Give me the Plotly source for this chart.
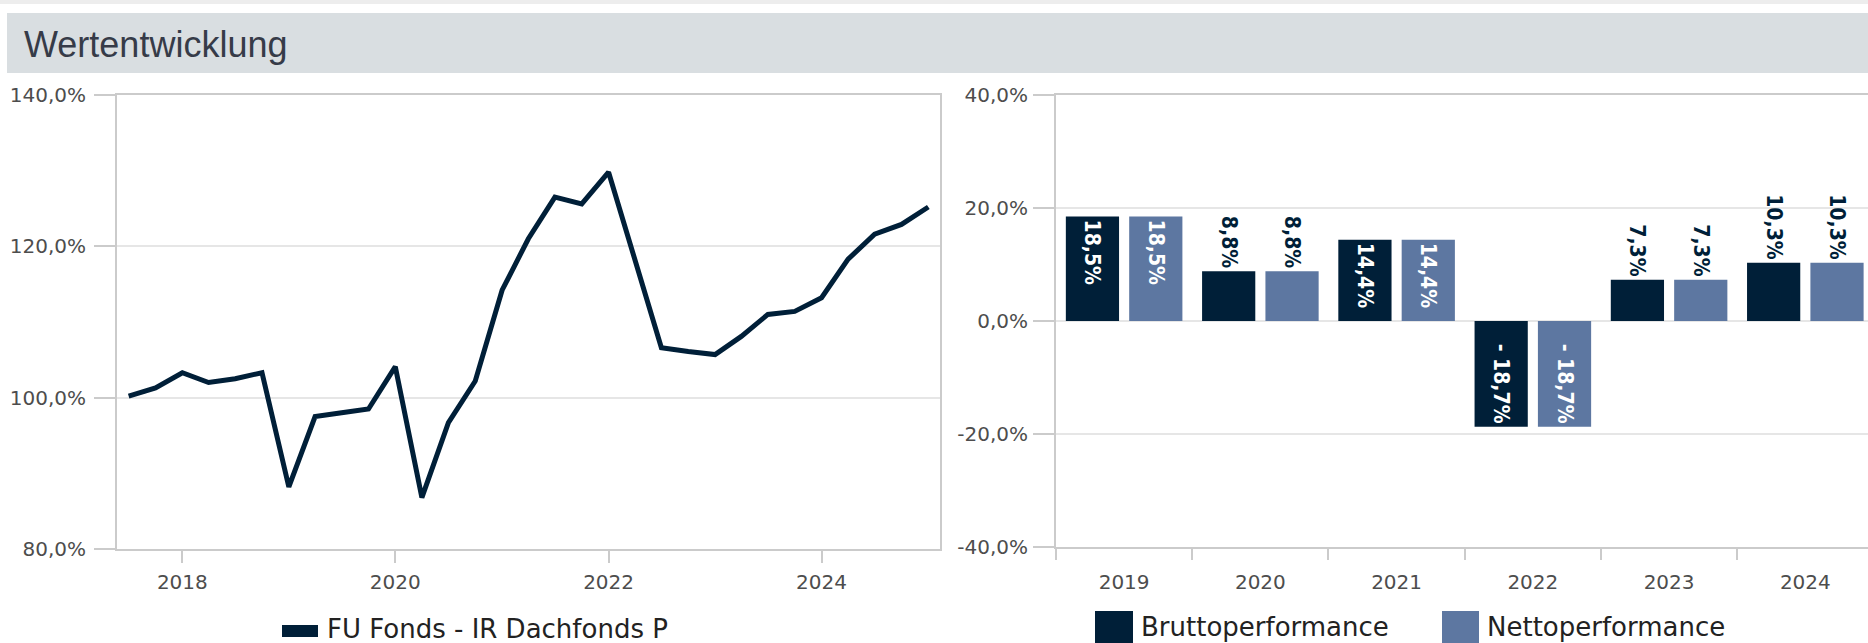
import plotly.graph_objects as go

W, H = 1868, 643

# ---------------- data ----------------
quarters = [
    "2017-07-01", "2017-10-01", "2018-01-01", "2018-04-01", "2018-07-01", "2018-10-01",
    "2019-01-01", "2019-04-01", "2019-07-01", "2019-10-01", "2020-01-01", "2020-04-01",
    "2020-07-01", "2020-10-01", "2021-01-01", "2021-04-01", "2021-07-01", "2021-10-01",
    "2022-01-01", "2022-04-01", "2022-07-01", "2022-10-01", "2023-01-01", "2023-04-01",
    "2023-07-01", "2023-10-01", "2024-01-01", "2024-04-01", "2024-07-01", "2024-10-01",
    "2025-01-01",
]
fund_values = [
    100.2, 101.3, 103.3, 102.0, 102.5, 103.3,
    88.2, 97.5, 98.0, 98.5, 104.1, 86.8,
    96.7, 102.2, 114.2, 121.0, 126.5, 125.6,
    129.8, 118.3, 106.6, 106.1, 105.7, 108.1,
    111.0, 111.4, 113.2, 118.3, 121.6, 122.9,
    125.2,
]
fund_name = "FU Fonds - IR Dachfonds P"

years = ["2019", "2020", "2021", "2022", "2023", "2024"]
brutto = [18.5, 8.8, 14.4, -18.7, 7.3, 10.3]
netto = [18.5, 8.8, 14.4, -18.7, 7.3, 10.3]
bar_names = ["Bruttoperformance", "Nettoperformance"]

left_yticks = [80, 100, 120, 140]
left_yticklabels = ["80,0%", "100,0%", "120,0%", "140,0%"]
right_yticks = [-40, -20, 0, 20, 40]
right_yticklabels = ["-40,0%", "-20,0%", "0,0%", "20,0%", "40,0%"]

title_text = "Wertentwicklung"

# ---------------- style ----------------
NAVY = "#001f38"
BLUE = "#5d77a1"
AXIS = "#cbcbcb"
GRID = "#e6e6e6"
TICKFONT = dict(family="DejaVu Sans", size=20, color="#4d4d4d")
LEGFONT = dict(family="DejaVu Sans", size=26, color="#222222")
LABELFONT = "DejaVu Sans Condensed, DejaVu Sans, sans-serif"


def px_x(p):
    return p / W


def px_y(p):
    return 1 - p / H


def fmt(v):
    s = f"{abs(v):.1f}".replace(".", ",") + "%"
    return ("- " + s) if v < 0 else s


def positions(vals):
    return ["inside" if abs(v) >= 12 else "outside" for v in vals]


fig = go.Figure()

fig.add_trace(go.Scatter(
    x=quarters, y=fund_values, mode="lines", name=fund_name,
    line=dict(color=NAVY, width=5), xaxis="x", yaxis="y", showlegend=False,
))

for vals, name, col in [(brutto, bar_names[0], NAVY), (netto, bar_names[1], BLUE)]:
    fig.add_trace(go.Bar(
        x=years, y=vals, name=name, marker=dict(color=col, line=dict(width=0)),
        text=[fmt(v) for v in vals], textposition=positions(vals),
        textangle=90, insidetextanchor="end", constraintext="none", cliponaxis=False,
        insidetextfont=dict(family=LABELFONT, size=21, color="white", weight="bold"),
        outsidetextfont=dict(family=LABELFONT, size=21, color=NAVY, weight="bold"),
        xaxis="x2", yaxis="y2", showlegend=False,
    ))

common_axis = dict(showline=True, linecolor=AXIS, linewidth=2, ticks="outside",
                   tickcolor=AXIS, tickwidth=2, tickfont=TICKFONT, zeroline=False,
                   automargin=False)

fig.update_layout(
    template="none",
    width=W, height=H, autosize=False,
    margin=dict(l=0, r=0, t=0, b=0, pad=0),
    paper_bgcolor="white", plot_bgcolor="white",
    separators=",.",
    barmode="group", bargap=0.07, bargroupgap=0.16,
    showlegend=False,
    xaxis=dict(domain=[px_x(117), px_x(940)], anchor="y", type="date",
               range=["2017-05-22", "2025-02-10"], dtick="M24", tick0="2018-01-01",
               tickformat="%Y", ticklen=12, mirror=True, showgrid=False,
               ticklabelstandoff=2, **common_axis),
    yaxis=dict(domain=[px_y(549), px_y(95)], anchor="x", range=[80, 140],
               tickvals=left_yticks, ticktext=left_yticklabels, ticklen=21, mirror=True,
               showgrid=True, gridcolor=GRID, gridwidth=2, ticklabelstandoff=4,
               **common_axis),
    xaxis2=dict(domain=[px_x(1056), 1.0], anchor="y2", type="category",
                range=[-0.5, 5.46], tickson="boundaries", ticklen=11, mirror=True,
                showgrid=False, ticklabelstandoff=16, **common_axis),
    yaxis2=dict(domain=[px_y(547), px_y(95)], anchor="x2", range=[-40, 40],
                tickvals=right_yticks, ticktext=right_yticklabels, ticklen=21,
                showgrid=True, gridcolor=GRID, gridwidth=2, ticklabelstandoff=1,
                **common_axis),
)

shapes = [
    # top strip and header band
    dict(type="rect", xref="paper", yref="paper", x0=0, x1=1, y0=px_y(4), y1=1,
         fillcolor="#ededed", line=dict(width=0), layer="below"),
    dict(type="rect", xref="paper", yref="paper", x0=px_x(7), x1=1, y0=px_y(73), y1=px_y(13),
         fillcolor="#d9dee1", line=dict(width=0), layer="below"),
    # legend symbols
    dict(type="rect", xref="paper", yref="paper", x0=px_x(282), x1=px_x(318),
         y0=px_y(637), y1=px_y(625), fillcolor=NAVY, line=dict(width=0)),
    dict(type="rect", xref="paper", yref="paper", x0=px_x(1095), x1=px_x(1133),
         y0=px_y(649), y1=px_y(611), fillcolor=NAVY, line=dict(width=0)),
    dict(type="rect", xref="paper", yref="paper", x0=px_x(1442), x1=px_x(1479),
         y0=px_y(649), y1=px_y(611), fillcolor=BLUE, line=dict(width=0)),
]
fig.update_layout(shapes=shapes)

annotations = [
    dict(text=title_text, xref="paper", yref="paper", x=px_x(22), y=px_y(44),
         xanchor="left", yanchor="middle", showarrow=False,
         font=dict(family="Liberation Sans", size=36, color="#363b48")),
    dict(text=fund_name, xref="paper", yref="paper", x=px_x(325), y=px_y(629),
         xanchor="left", yanchor="middle", showarrow=False, font=LEGFONT),
    dict(text=bar_names[0], xref="paper", yref="paper", x=px_x(1139), y=px_y(627),
         xanchor="left", yanchor="middle", showarrow=False, font=LEGFONT),
    dict(text=bar_names[1], xref="paper", yref="paper", x=px_x(1485), y=px_y(627),
         xanchor="left", yanchor="middle", showarrow=False, font=LEGFONT),
]
fig.update_layout(annotations=annotations)

fig.write_html(
    "out.html",
    config={"displayModeBar": False},
    post_script="document.body.style.margin='0';document.body.style.overflow='hidden';",
)
